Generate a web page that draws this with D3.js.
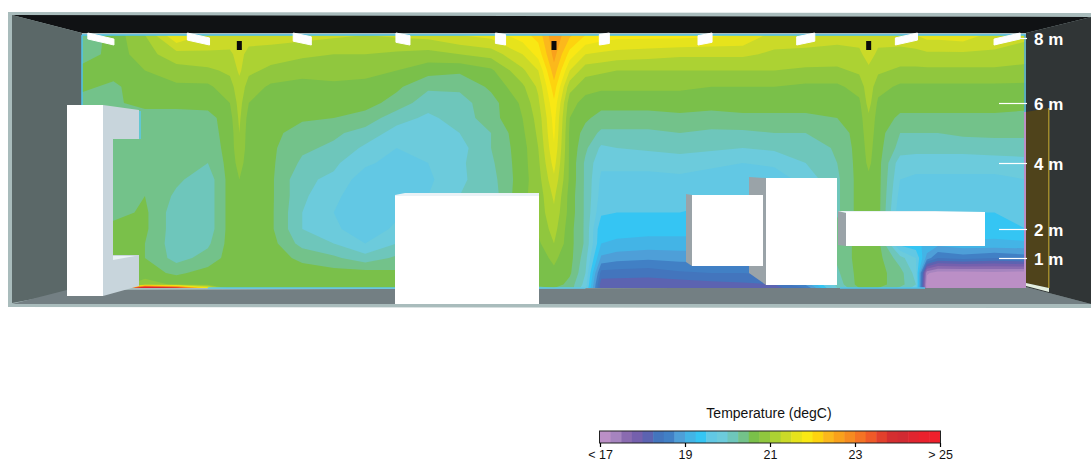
<!DOCTYPE html>
<html>
<head>
<meta charset="utf-8">
<script src="https://cdn.jsdelivr.net/npm/d3@7"></script>
<style>
  body { margin: 0; background: #fff; }
  text { font-family: "Liberation Sans", Arial, sans-serif; }
</style>
</head>
<body>
<div id="chart"></div>
<script>
// along the room in metres, one entry per column of temperature
const stations = [0, 1, 2, 3, 4, 4.7, 5, 5.3, 6, 7, 8, 9, 10, 11, 12, 13, 14, 14.5, 15, 15.5,
  16, 16.5, 17, 18, 19, 20, 21, 22, 23, 24, 24.7, 25, 25.3, 26, 26.5, 26.85, 27.2, 28, 29, 30];
// height in metres, top of the room first
const heights = [8.1, 7.5, 7, 6.5, 6, 5.5, 5, 4.5, 4, 3.5, 3, 2.5, 2, 1.5, 1, 0.5, 0.12, 0];

// degC, one row per station, same order as heights
const temperature = [
  [20.3, 20.35, 20.6, 20.55, 20.4, 20.6, 20.6, 20.6, 20.6, 20.6, 20.6, 20.6, 20.6, 20.6, 20.6, 20.6, 20.6, 20.6],
  [20.6, 20.6, 20.6, 20.45, 20.45, 20.4, 20.4, 20.35, 20.35, 20.35, 20.35, 20.4, 20.6, 20.6, 20.6, 20.6, 20.6, 20.6],
  [21, 20.9, 20.75, 20.65, 20.6, 20.35, 20.35, 20.35, 20.35, 20.35, 20.5, 20.55, 20.55, 20.5, 20.5, 20.6, 20.9, 25],
  [21.75, 21.15, 20.9, 20.7, 20.6, 20.35, 20.3, 20.3, 20.3, 20.3, 20.2, 20.1, 20.1, 20.1, 20.15, 20.45, 20.7, 24],
  [21.45, 21.2, 20.95, 20.7, 20.6, 20.4, 20.4, 20.35, 20.25, 20.1, 20.1, 20.1, 20.1, 20.2, 20.35, 20.6, 20.6, 21.8],
  [21.4, 21.2, 21.05, 20.9, 20.75, 20.65, 20.6, 20.6, 20.6, 20.6, 20.6, 20.6, 20.6, 20.6, 20.6, 20.6, 20.6, 20.55],
  [21.35, 21.35, 21.3, 21.15, 21.1, 21.05, 21, 20.95, 20.85, 20.75, 20.7, 20.7, 20.65, 20.6, 20.6, 20.6, 20.6, 20.6],
  [21.4, 21.15, 21.05, 20.9, 20.75, 20.65, 20.62, 20.62, 20.62, 20.62, 20.62, 20.62, 20.62, 20.6, 20.6, 20.6, 20.6, 20.5],
  [21.4, 21.1, 20.95, 20.7, 20.6, 20.6, 20.6, 20.55, 20.55, 20.55, 20.55, 20.55, 20.55, 20.6, 20.6, 20.6, 20.6, 20.5],
  [21.35, 21.05, 20.85, 20.65, 20.6, 20.55, 20.35, 20.3, 20.2, 20.05, 20.05, 20, 20, 20.15, 20.45, 20.6, 20.6, 20.5],
  [21.3, 21, 20.85, 20.7, 20.6, 20.5, 20.3, 20.2, 20.05, 19.95, 19.8, 19.75, 19.8, 20, 20.3, 20.6, 20.6, 20.5],
  [21.25, 21, 20.8, 20.7, 20.6, 20.4, 20.15, 19.95, 19.8, 19.6, 19.6, 19.6, 19.6, 19.75, 20.1, 20.6, 20.6, 20.5],
  [21.3, 20.95, 20.75, 20.55, 20.4, 20.1, 19.9, 19.75, 19.65, 19.6, 19.65, 19.7, 19.8, 20, 20.3, 20.55, 20.6, 20.5],
  [21.35, 20.9, 20.6, 20.3, 20.1, 19.95, 19.85, 19.8, 19.75, 19.7, 19.75, 19.8, 19.9, 20.1, 20.3, 20.5, 20.6, 20.5],
  [21.5, 21, 20.55, 20.3, 20.15, 20.1, 20, 19.9, 19.95, 19.95, 20, 20.05, 20.1, 20.2, 20.35, 20.55, 20.6, 20.5],
  [21.6, 21.1, 20.7, 20.55, 20.4, 20.4, 20.25, 20.25, 20.2, 20.15, 20.1, 20.2, 20.3, 20.4, 20.5, 20.6, 20.6, 20.5],
  [21.9, 21.5, 21.2, 20.95, 20.8, 20.75, 20.7, 20.65, 20.65, 20.65, 20.7, 20.7, 20.7, 20.7, 20.65, 20.6, 20.6, 20.5],
  [22.1, 21.85, 21.5, 21.3, 21.2, 21.1, 21.05, 21, 20.95, 20.9, 20.85, 20.85, 20.8, 20.7, 20.65, 20.6, 20.6, 20.4],
  [22.7, 22.6, 22.4, 22.15, 21.95, 21.85, 21.8, 21.72, 21.6, 21.45, 21.3, 21.2, 21.1, 21, 20.8, 20.7, 20.65, 20.5],
  [22.3, 21.9, 21.5, 21.1, 20.85, 20.75, 20.7, 20.7, 20.7, 20.7, 20.65, 20.65, 20.6, 20.6, 20.6, 20.55, 20.4, 20.4],
  [22, 21.5, 21.1, 20.85, 20.65, 20.55, 20.4, 20.3, 20.2, 20.2, 20.2, 20.2, 20.2, 20.2, 20.1, 20, 19.9, 19.8],
  [21.9, 21.45, 21.05, 20.8, 20.6, 20.4, 20.2, 19.95, 19.8, 19.7, 19.65, 19.55, 19.3, 19.25, 18.95, 18.4, 18.1, 18.1],
  [21.85, 21.4, 21, 20.8, 20.6, 20.4, 20.2, 20, 19.8, 19.7, 19.62, 19.5, 19.35, 19.2, 18.85, 18.38, 18.1, 18.05],
  [21.85, 21.35, 21, 20.8, 20.6, 20.4, 20.2, 20.05, 19.8, 19.7, 19.6, 19.5, 19.35, 19.15, 18.8, 18.35, 18.1, 18.05],
  [21.85, 21.3, 21, 20.8, 20.6, 20.45, 20.25, 20.1, 19.85, 19.7, 19.6, 19.5, 19.35, 19.15, 18.85, 18.45, 18.1, 18.05],
  [21.8, 21.3, 21, 20.75, 20.6, 20.4, 20.2, 20.05, 19.8, 19.65, 19.55, 19.45, 19.35, 19.15, 18.85, 18.5, 18.15, 18.1],
  [21.75, 21.3, 21, 20.75, 20.6, 20.45, 20.2, 20, 19.75, 19.6, 19.55, 19.45, 19.35, 19.15, 18.85, 18.5, 18.2, 18.1],
  [21.4, 21.2, 21, 20.75, 20.6, 20.45, 20.25, 20.05, 19.8, 19.6, 19.55, 19.45, 19.35, 19.15, 18.9, 18.55, 18.25, 18.15],
  [21.35, 21.2, 20.95, 20.7, 20.6, 20.45, 20.25, 20.05, 20, 19.85, 19.8, 19.75, 19.7, 19.6, 19.4, 19.1, 18.8, 18.5],
  [21.35, 21.15, 20.95, 20.7, 20.6, 20.5, 20.35, 20.3, 20.25, 20.2, 20.2, 20.2, 20.35, 20.3, 20.3, 20.2, 20.1, 20],
  [21.35, 21.2, 21.05, 20.85, 20.7, 20.65, 20.62, 20.6, 20.6, 20.6, 20.6, 20.6, 20.6, 20.6, 20.6, 20.6, 20.6, 20.5],
  [21.35, 21.35, 21.2, 21.15, 21.1, 20.95, 20.9, 20.85, 20.8, 20.7, 20.7, 20.65, 20.65, 20.65, 20.65, 20.6, 20.6, 20.5],
  [21.35, 21.2, 21.05, 20.85, 20.7, 20.65, 20.62, 20.6, 20.6, 20.6, 20.6, 20.6, 20.6, 20.6, 20.6, 20.6, 20.6, 20.5],
  [21.4, 21.15, 20.95, 20.7, 20.6, 20.45, 20.25, 20.15, 19.85, 19.75, 19.65, 19.55, 19.3, 19.4, 20.1, 20.35, 20.35, 20.2],
  [21.5, 21.15, 20.95, 20.7, 20.6, 20.45, 20.25, 20.1, 19.85, 19.7, 19.6, 19.5, 19.3, 19.3, 19.75, 19.9, 20, 19.9],
  [21.6, 21.2, 20.95, 20.7, 20.6, 20.45, 20.25, 20.1, 19.85, 19.7, 19.6, 19.5, 19.3, 19.2, 18.9, 17.3, 17.05, 17.1],
  [21.6, 21.2, 20.95, 20.7, 20.6, 20.45, 20.25, 20.1, 19.85, 19.7, 19.6, 19.5, 19.3, 19.1, 18.5, 17.1, 17.05, 17],
  [21.65, 21.2, 20.95, 20.7, 20.6, 20.45, 20.3, 20.1, 19.85, 19.7, 19.6, 19.5, 19.4, 19.2, 18.6, 17.1, 17.05, 17],
  [21.4, 21.2, 20.95, 20.7, 20.6, 20.45, 20.3, 20.15, 19.85, 19.7, 19.6, 19.5, 19.35, 19.2, 18.5, 17.15, 17.05, 17],
  [21.3, 21.15, 20.9, 20.7, 20.55, 20.45, 20.3, 20.15, 19.9, 19.75, 19.65, 19.6, 19.5, 19.2, 18.6, 17.1, 17, 17]
];

const heightTicks = [8, 6, 4, 2, 1];
const legendTicks = [17, 19, 21, 23, 25];
const lampStations = [0.6, 3.7, 7, 10.2, 13.3, 16.6, 19.8, 23, 26.2, 29.4];
const sensorStations = [5, 15, 25];
const palette = ["#bb8fc6", "#a684bf", "#8a6bb0", "#7560ad", "#5c63b1", "#4375bd", "#4180c5", "#4e9fd8",
  "#43b4e6", "#35c5f3", "#62c8e4", "#6ccbdc", "#6ec6bb", "#73c28a", "#7ac04a", "#90c73e",
  "#acd233", "#cbda28", "#e6e31c", "#f9e814", "#fdd30f", "#fbb81c", "#f9a11c", "#f68b20",
  "#f47324", "#ef5a28", "#e2402c", "#d42e30", "#d22a32", "#e0252f", "#ea212d", "#ee1f2b"];

const width = 1091, height = 463;

const svg = d3.select("#chart").append("svg")
  .attr("width", width)
  .attr("height", height)
  .style("display", "block");

const x = d3.scaleLinear().domain([0, 30]).range([82, 1026]);
const y = d3.scaleLinear().domain([0, 1, 2, 4, 6, 8, 8.1]).range([288, 258, 229, 163, 103, 38, 35]);
const color = d3.scaleQuantize().domain([17, 25]).range(palette);

function poly(points, fill) {
  return svg.append("polygon").attr("points", points.join(" ")).attr("fill", fill);
}

// room shell
poly([[8, 12], [1091, 13], [1091, 308], [8, 307]], "#a9bcbc");
poly([[12, 15], [1091, 17], [1026, 33], [82, 33]], "#101214");
poly([[12, 15], [82, 33], [82, 290], [12, 303]], "#5b6868");
poly([[12, 304], [67, 290], [1026, 287], [1091, 304]], "#737f83");
poly([[1026, 33], [1091, 17], [1091, 304], [1026, 287]], "#303536");

// temperature field
const n = stations.length, m = heights.length;
const rows = d3.transpose(temperature);
const values = rows.flat();
const colX = d3.scaleLinear().domain(d3.range(n).map(i => i + 0.5)).range(stations.map(x)).clamp(true);
const rowY = d3.scaleLinear().domain(d3.range(m).map(j => j + 0.5)).range(heights.map(y)).clamp(true);
const path = d3.geoPath(d3.geoTransform({
  point(px, py) { this.stream.point(colX(px), rowY(py)); }
}));
const edges = d3.range(palette.length).map(i => 17 + i * 0.25);
const contours = d3.contours().size([n, m]).thresholds(edges)(values);

svg.append("rect")
  .attr("x", x(0)).attr("y", y(8.1))
  .attr("width", x(30) - x(0)).attr("height", y(0) - y(8.1))
  .attr("fill", palette[0]);

svg.append("g").selectAll("path")
  .data(contours)
  .join("path")
  .attr("d", path)
  .attr("fill", d => color(d.value));

// wall lines of the field
const wallLine = (x1, y1, x2, y2, stroke) => svg.append("line")
  .attr("x1", x1).attr("y1", y1).attr("x2", x2).attr("y2", y2)
  .attr("stroke", stroke).attr("stroke-width", 1.5);
wallLine(x(0), y(8.1), x(30), y(8.1), "#4fc3ee");
wallLine(x(0), y(8.1), x(0), 106, "#4fc3ee");
wallLine(x(30) - 1, y(8.1), x(30) - 1, 112, "#4fa8e0");
wallLine(x(4), y(0), x(16), y(0), "#5cc8ea");
wallLine(840, y(0), 925, y(0), "#4fc3ee");
wallLine(140, 139, 140, 111, "#5cc8ea");

// lamps on the ceiling, stubbier towards the middle of the room
const lampPoints = s => {
  const cx = x(s), dx = Math.abs(cx - 554), w = 8 + dx * 0.04, top = y(8.1) - 2;
  const thick = 6 + 5 * (1 - dx / 450), slant = 12 - thick;
  return cx < 554
    ? [[cx - w / 2, top], [cx + w / 2, top + slant], [cx + w / 2, top + 12], [cx - w / 2, top + thick]]
    : [[cx + w / 2, top], [cx - w / 2, top + slant], [cx - w / 2, top + 12], [cx + w / 2, top + thick]];
};
svg.append("g").selectAll("polygon")
  .data(lampStations)
  .join("polygon")
  .attr("points", d => lampPoints(d).join(" "))
  .attr("fill", "#fff")
  .attr("stroke", "#fff")
  .attr("stroke-width", 1)
  .attr("stroke-linejoin", "round");

svg.append("g").selectAll("rect")
  .data(sensorStations)
  .join("rect")
  .attr("x", d => x(d) - 2.5)
  .attr("y", 41)
  .attr("width", 5)
  .attr("height", 9)
  .attr("fill", "#0a0a0a");

// door on the end wall
poly([[1024, 112], [1026, 112], [1026, 288], [1024, 288]], "#bb8fc6");
poly([[1026, 112], [1049, 108], [1049, 288], [1026, 283]], "#4f431b");
poly([[1048, 108], [1049.5, 108], [1049.5, 288], [1048, 288]], "#a08a2a");
poly([[1026, 283], [1049, 288], [1049, 292], [1026, 286]], "#e4efe0");

// obstacles
const grey = "#9aa3a8", light = "#c8d5dc", pale = "#eaf2f6";
poly([[103, 105], [139, 110], [139, 139], [113, 139], [113, 255], [139, 255], [139, 286], [103, 296]], light);
poly([[113, 260], [135, 256], [113, 256]], pale);
poly([[67, 105], [103, 105], [103, 296], [67, 296]], "#fff");

poly([[395, 195], [405, 193], [539, 193], [539, 196], [395, 196]], pale);
poly([[395, 196], [539, 196], [539, 304], [395, 304]], "#fff");

poly([[749, 177], [766, 178], [766, 285], [749, 273]], grey);
poly([[766, 178], [837, 178], [837, 285], [766, 285]], "#fff");
poly([[686, 194], [692, 195], [692, 266], [686, 262]], grey);
poly([[692, 195], [763, 195], [763, 266], [692, 266]], "#fff");
poly([[838, 211], [846, 213], [846, 246], [838, 245]], grey);
poly([[838, 211], [935, 211], [985, 212], [985, 213], [846, 213]], pale);
poly([[846, 212], [985, 212], [985, 246], [846, 246]], "#fff");

// height markers on the end wall
const heightAxis = d3.axisRight(y)
  .tickValues(heightTicks)
  .tickFormat(d => d + " m")
  .tickSize(0)
  .tickPadding(7);
const gh = svg.append("g")
  .attr("transform", `translate(1027,0)`)
  .call(heightAxis);
gh.select(".domain").remove();
gh.selectAll(".tick line")
  .attr("stroke", "#fff")
  .attr("stroke-width", 1.2)
  .attr("x2", d => d === 8 ? -7 : -28);
gh.selectAll(".tick text")
  .attr("fill", "#fff")
  .attr("font-family", "Liberation Sans")
  .attr("font-size", 17)
  .attr("font-weight", "bold")
  .attr("dy", "0.4em");

// colour legend
const legendY = 431, barH = 12;
const lx = d3.scaleLinear().domain([17, 25]).range([600, 940]);
const legend = svg.append("g");
legend.selectAll("rect")
  .data(edges)
  .join("rect")
  .attr("x", d => lx(d))
  .attr("y", legendY)
  .attr("width", lx(17.25) - lx(17) + 0.5)
  .attr("height", barH)
  .attr("fill", d => color(d));
legend.append("rect")
  .attr("x", 599.5).attr("y", legendY)
  .attr("width", 341).attr("height", barH)
  .attr("fill", "none").attr("stroke", "#222").attr("stroke-width", 1);

const legendAxis = d3.axisBottom(lx)
  .tickValues(legendTicks)
  .tickFormat(d => d === 17 ? "< 17" : d === 25 ? "> 25" : d)
  .tickSize(4)
  .tickPadding(3.5);
const gl = svg.append("g")
  .attr("transform", `translate(0,${legendY + barH})`)
  .call(legendAxis);
gl.select(".domain").remove();
gl.selectAll(".tick line").attr("stroke", "#000").attr("stroke-width", 1.2);
gl.selectAll(".tick text")
  .attr("fill", "#111")
  .attr("font-family", "Liberation Sans")
  .attr("font-size", 12.5);

svg.append("text")
  .attr("x", 769)
  .attr("y", 418)
  .attr("text-anchor", "middle")
  .attr("font-size", 14)
  .attr("fill", "#111")
  .text("Temperature (degC)");
</script>
</body>
</html>
